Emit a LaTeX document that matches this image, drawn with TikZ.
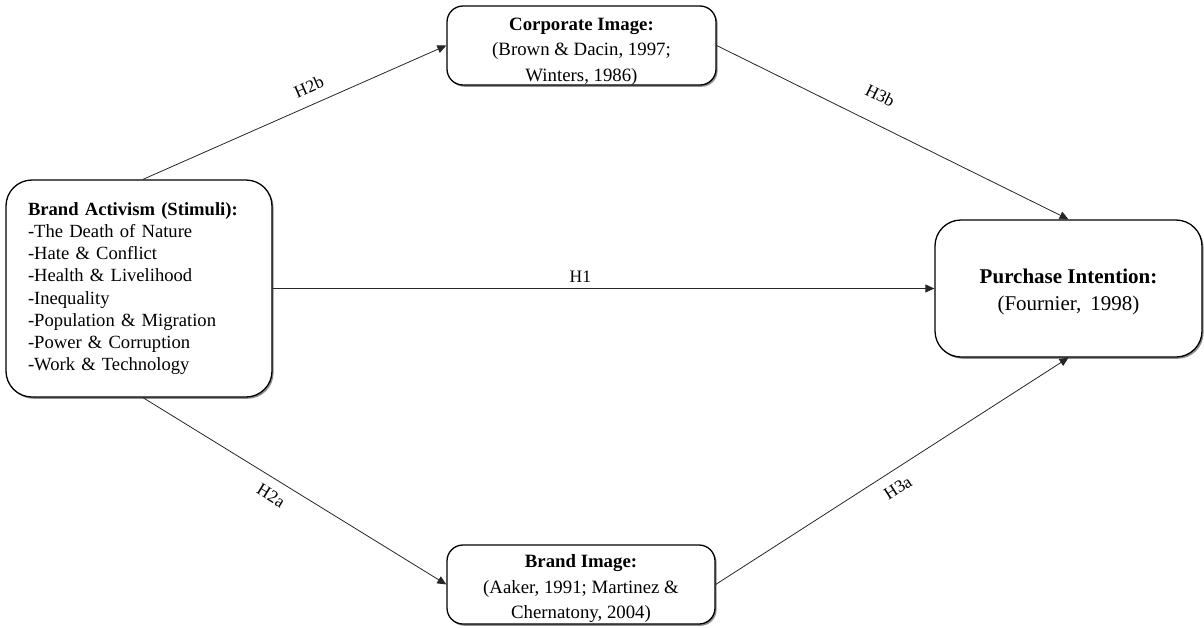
\documentclass[tikz,border=0pt]{standalone}
\usepackage{fontspec}
\setmainfont{Liberation Serif}
\usetikzlibrary{arrows.meta,shadows}

\begin{document}
\begin{tikzpicture}[x=1pt,y=-1pt,
  box/.style={draw, line width=1.3pt, fill=white, rounded corners=#1,
    drop shadow={shadow xshift=1.6pt, shadow yshift=-1.8pt, fill=black!55, opacity=0.8}},
  box/.default=16pt,
  link/.style={draw=black!85, line width=0.8pt, -{Triangle[length=9pt,width=8pt]}},
  hlab/.style={font=\fontsize{17.5}{20}\selectfont, inner sep=0pt, sloped},
  txt/.style={align=center, inner sep=0pt, font=\fontsize{18.8}{25.5}\selectfont}]
\useasboundingbox (0,0) rectangle (1204,627);

% stimulus box
\node[box=26pt, minimum width=266pt, minimum height=217pt, text width=222pt,
      align=left, inner sep=0pt, font=\fontsize{18.6}{22.2}\selectfont]
  (act) at (139,288.5)
  {\textbf{Brand Activism (Stimuli):}\\
   -The Death of Nature\\
   -Hate \& Conflict\\
   -Health \& Livelihood\\
   -Inequality\\
   -Population \& Migration\\
   -Power \& Corruption\\
   -Work \& Technology};

% mediator boxes
\node[box, minimum width=269pt, minimum height=79pt] (corp) at (581.5,45.5) {};
\node[txt] (corptxt) at ([yshift=-6pt]corp.center)
  {\textbf{Corporate Image:}\\(Brown \& Dacin, 1997;\\Winters, 1986)};

\node[box, minimum width=268pt, minimum height=79pt] (brand) at (581,584.5) {};
\node[txt] (brandtxt) at ([yshift=-4pt]brand.center)
  {\textbf{Brand Image:}\\(Aaker, 1991; Martinez \&\\Chernatony, 2004)};

% outcome box
\node[box=26pt, minimum width=267pt, minimum height=137pt] (pi) at (1068.5,288.5) {};
\node[txt, font=\fontsize{21}{27}\selectfont] (pitxt) at ([yshift=-3.5pt]pi.center)
  {\textbf{Purchase Intention:}\\(Fournier,\hspace{4pt} 1998)};

% hypothesised paths
\draw[link] ([xshift=4pt]act.north) -- node[hlab, pos=0.57, above=11pt] {H2b} (corp.west);
\draw[link] (corp.east) -- node[hlab, pos=0.43, above=21pt] {H3b} (pi.north);
\draw[link] (act.east) -- node[hlab, pos=0.465, above=6pt] {H1} (pi.west);
\draw[link] ([xshift=4pt]act.south) -- node[hlab, pos=0.45, below=10pt] {H2a} (brand.west);
\draw[link] (brand.east) -- node[hlab, pos=0.49, below=11pt] {H3a} (pi.south);
\end{tikzpicture}
\end{document}
